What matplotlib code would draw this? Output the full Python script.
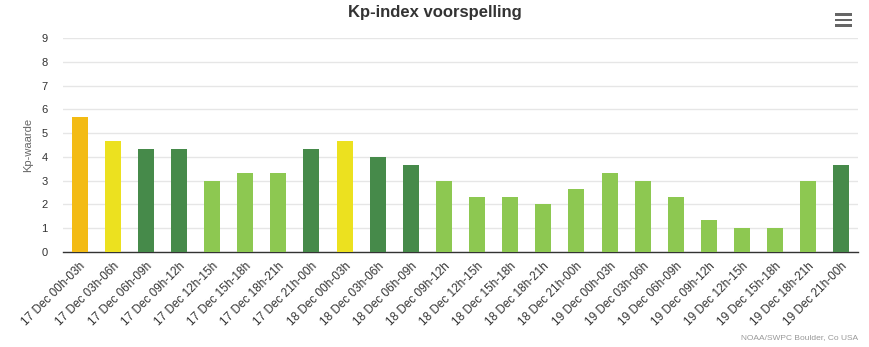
import matplotlib
matplotlib.use("Agg")
import matplotlib.pyplot as plt
from matplotlib.patches import Rectangle

plt.rcParams['font.family'] = ['Liberation Sans', 'DejaVu Sans']

days = ["17 Dec"] * 8 + ["18 Dec"] * 8 + ["19 Dec"] * 8
periods = ["00h-03h", "03h-06h", "06h-09h", "09h-12h",
           "12h-15h", "15h-18h", "18h-21h", "21h-00h"] * 3
labels = [f"{d} {p}" for d, p in zip(days, periods)]

kp = [5.67, 4.67, 4.33, 4.33, 3.0, 3.33, 3.33, 4.33,
      4.67, 4.0, 3.67, 3.0, 2.33, 2.33, 2.0, 2.67,
      3.33, 3.0, 2.33, 1.33, 1.0, 1.0, 3.0, 3.67]

# colour class per bar (as in the original)
kinds = ["storm", "active", "dark", "dark", "light", "light", "light", "dark",
         "active", "dark", "dark", "light", "light", "light", "light", "light",
         "light", "light", "light", "light", "light", "light", "light", "dark"]
palette = {"storm": "#f3bb14", "active": "#ece11f",
           "dark": "#468a4a", "light": "#8dc851"}
colors = [palette[k] for k in kinds]

fig = plt.figure(figsize=(8.7, 3.47), dpi=100)
ax = fig.add_axes([63 / 870, (347 - 252) / 347, 795 / 870, 214 / 347])

x = range(len(kp))
ax.bar(x, kp, width=0.48, color=colors, zorder=3)

ax.set_xlim(-0.5, len(kp) - 0.5)
ax.set_ylim(0, 9)
ax.set_yticks(range(10))
ax.tick_params(axis='y', length=0, labelsize=8, colors='#333333', pad=11)
ax.set_xticks(list(x))
ax.set_xticklabels(labels, rotation=45, ha='right', rotation_mode='anchor',
                   fontsize=8.5, color='#333333')
ax.tick_params(axis='x', length=0, pad=6)
ax.grid(axis='y', color='#e6e6e6', linewidth=1, zorder=0)
for s in ['top', 'right', 'left']:
    ax.spines[s].set_visible(False)
ax.spines['bottom'].set_color('#333333')
ax.spines['bottom'].set_linewidth(1)

ax.set_ylabel("Kp-waarde", fontsize=8, color='#666666', labelpad=6)

fig.text(0.5, 1 - 13 / 347, "Kp-index voorspelling", ha='center', va='center',
         fontsize=12, fontweight='bold', color='#333333')
fig.text(858 / 870, 1 - 338 / 347, "NOAA/SWPC Boulder, Co USA", ha='right',
         va='center', fontsize=6, color='#999999')

# menu icon
for yy in (14.5, 20, 25.5):
    fig.patches.append(Rectangle((835 / 870, 1 - (yy + 1.3) / 347), 17 / 870, 2.6 / 347,
                                 transform=fig.transFigure, facecolor='#666666',
                                 linewidth=0))

fig.savefig("out.png", dpi=100)
